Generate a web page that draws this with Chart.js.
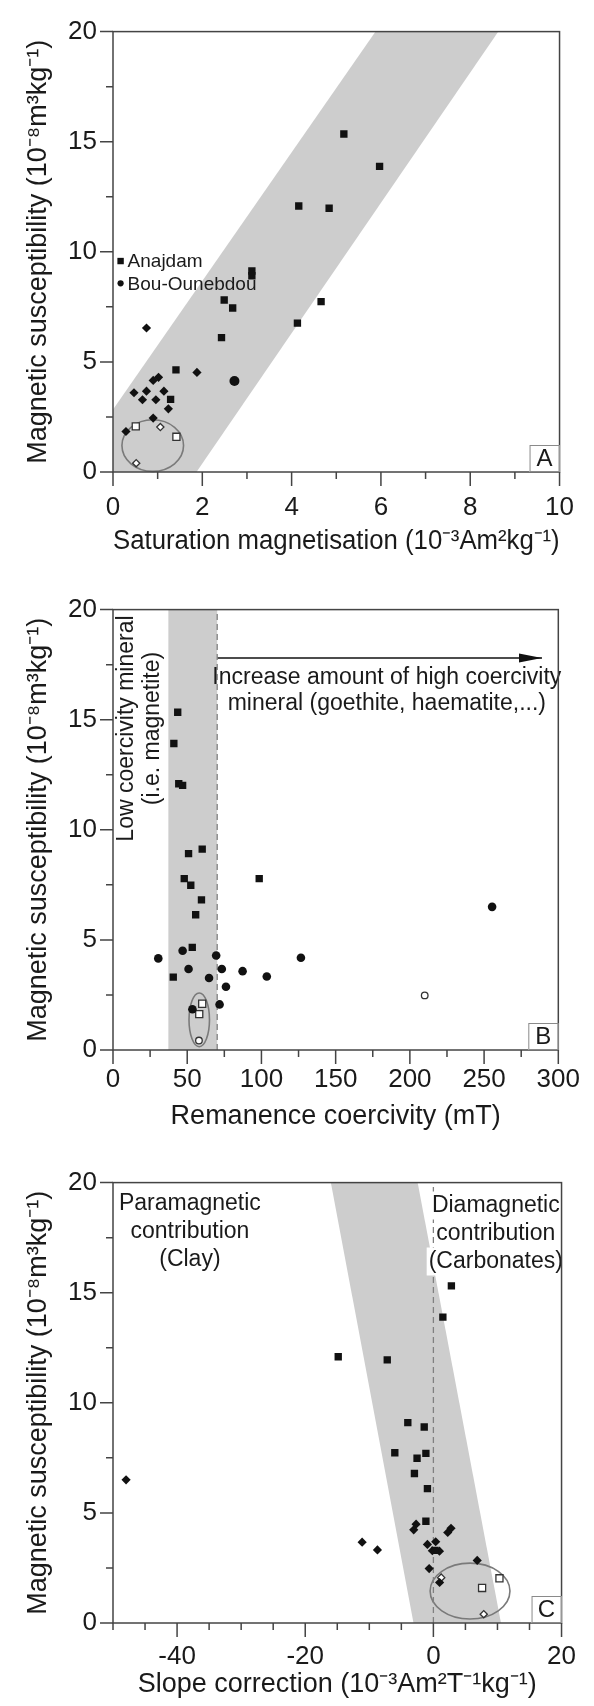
<!DOCTYPE html>
<html>
<head>
<meta charset="utf-8">
<script src="https://cdn.jsdelivr.net/npm/chart.js@4.4.1/dist/chart.umd.min.js"></script>
<style>
html, body { margin: 0; padding: 0; background: #fff; }
body { width: 594px; height: 1706px; position: relative; overflow: hidden; }
.panel { position: absolute; left: 0; width: 594px; }
</style>
</head>
<body>
<div class="panel" style="top:0px;height:578px"><canvas id="chartA"></canvas></div>
<div class="panel" style="top:578px;height:573px"><canvas id="chartB"></canvas></div>
<div class="panel" style="top:1151px;height:555px"><canvas id="chartC"></canvas></div>
<script>
// ================= DATA =================
// shared y axis (magnetic susceptibility)
const yLabels = [0, 5, 10, 15, 20];

// ---- Panel A : saturation magnetisation ----
const aXLabels = [0, 2, 4, 6, 8, 10];
const aAnajdamX = [5.17, 5.97, 4.16, 4.84, 3.11, 3.11, 2.49, 4.66, 2.68, 4.13, 2.43, 1.41, 1.29];
const aAnajdamY = [15.35, 13.88, 12.08, 11.98, 9.13, 8.91, 7.81, 7.74, 7.45, 6.76, 6.10, 4.64, 3.30];
const aBouX = [0.75, 1.88, 0.90, 1.02, 0.47, 0.75, 1.14, 0.66, 0.96, 1.24, 0.90, 0.29];
const aBouY = [6.54, 4.52, 4.16, 4.30, 3.60, 3.67, 3.67, 3.28, 3.28, 2.87, 2.45, 1.84];
const aBouBigX = [2.72];
const aBouBigY = [4.13];
const aOpenSqX = [0.51, 1.42];
const aOpenSqY = [2.07, 1.60];
const aOpenDiaX = [1.06, 0.52];
const aOpenDiaY = [2.04, 0.40];
const aBandX = [0, 1.87, 8.63, 5.88, 0];
const aBandY = [0, 0, 20, 20, 2.84];
const aEllipse = { cx: 0.89, cy: 1.20, rx: 0.69, ry: 1.17 };

// ---- Panel B : remanence coercivity ----
const bXLabels = [0, 50, 100, 150, 200, 250, 300];
const bAnajdamX = [43.6, 41.0, 44.3, 46.9, 60.1, 50.9, 98.5, 48.0, 52.4, 59.6, 55.7, 53.4, 40.6];
const bAnajdamY = [15.34, 13.92, 12.09, 12.02, 9.12, 8.92, 7.78, 7.78, 7.48, 6.82, 6.14, 4.66, 3.31];
const bBouX = [255.4, 126.6, 30.5, 46.9, 69.5, 50.9, 73.3, 87.3, 103.6, 64.7, 76.1, 71.8, 53.5];
const bBouY = [6.50, 4.19, 4.16, 4.51, 4.29, 3.68, 3.68, 3.58, 3.34, 3.27, 2.87, 2.07, 1.85];
const bOpenSqX = [60.1, 58.1];
const bOpenSqY = [2.10, 1.63];
const bOpenCircX = [210.0, 57.9];
const bOpenCircY = [2.48, 0.43];
const bBandX = [37.3, 70.2, 70.2, 37.3];
const bBandY = [0, 0, 20, 20];
const bDashX = [70.2, 70.2];
const bDashY = [0, 20];
const bArrowX = [70.2, 289];
const bArrowY = [17.8, 17.8];
const bEllipse = { cx: 58.1, cy: 1.37, rx: 6.9, ry: 1.22 };

// ---- Panel C : slope correction ----
const cXLabels = [-40, -20, 0, 20];
const cAnajdamX = [2.81, 1.48, -14.85, -7.20, -3.99, -1.43, -6.02, -1.17, -2.55, -2.96, -0.93, -1.17, 0.25];
const cAnajdamY = [15.31, 13.89, 12.09, 11.95, 9.10, 8.90, 7.73, 7.70, 7.48, 6.79, 6.10, 4.62, 3.30];
const cBouX = [-47.96, -2.70, -3.07, 2.75, 2.24, -11.12, -8.73, -0.93, 0.36, -0.16, 0.95, 6.84, -0.66, 0.97];
const cBouY = [6.50, 4.49, 4.23, 4.30, 4.11, 3.67, 3.32, 3.57, 3.69, 3.28, 3.26, 2.84, 2.47, 1.84];
const cOpenSqX = [10.31, 7.60];
const cOpenSqY = [2.03, 1.59];
const cOpenDiaX = [1.22, 7.86];
const cOpenDiaY = [2.06, 0.40];
const cBandX = [-16.0, -2.46, 10.55, -3.1];
const cBandY = [20, 20, 0, 0];
const cDashX = [0, 0];
const cDashY = [0, 20];
const cEllipse = { cx: 5.72, cy: 1.45, rx: 6.23, ry: 1.27 };

// ================= STYLE / HELPERS =================
const FONT = "'Liberation Sans', Arial, Helvetica, sans-serif";
const INK = '#1a1a1a';
const pts = (xs, ys) => xs.map((v, i) => ({ x: v, y: ys[i] }));
const isLabel = (arr, v) => arr.some(l => Math.abs(l - v) < 1e-6);

function markers(xs, ys, style, r, filled) {
  return {
    data: pts(xs, ys), showLine: false, order: 1,
    pointStyle: style, pointRadius: r, pointHoverRadius: r,
    pointBackgroundColor: filled ? '#111' : '#fff',
    pointBorderColor: filled ? '#111' : '#333',
    pointBorderWidth: filled ? 0 : 1.3
  };
}
function band(xs, ys) {
  return { data: pts(xs, ys), showLine: true, fill: 'shape', backgroundColor: '#cdcdcd',
    borderColor: 'rgba(0,0,0,0)', borderWidth: 0, pointRadius: 0, order: 10 };
}
function vline(xs, ys, color, width, dash) {
  return { data: pts(xs, ys), showLine: true, fill: false, borderColor: color, borderWidth: width,
    borderDash: dash || [], pointRadius: 0, order: 8 };
}

// annotation config per chart
const DECO = {
  chartA: {
    letter: 'A', ellipse: aEllipse, xLabels: aXLabels,
    legend: [
      { text: 'Anajdam', marker: 'rect', x: 0.17, y: 9.58 },
      { text: 'Bou-Ounebdou', marker: 'circle', x: 0.17, y: 8.57 }
    ],
    texts: []
  },
  chartB: {
    letter: 'B', ellipse: bEllipse, xLabels: bXLabels,
    arrow: { xs: bArrowX, ys: bArrowY },
    texts: [
      { lines: ['Increase amount of high coercivity', 'mineral (goethite, haematite,...)'], x: 184.5, y: 16.92, gap: 26, size: 23 },
      { lines: ['Low coercivity mineral', '(i.e. magnetite)'], x: 9.4, y: 14.6, gap: 26, size: 23, rotate: true }
    ]
  },
  chartC: {
    letter: 'C', ellipse: cEllipse, xLabels: cXLabels,
    texts: [
      { lines: ['Paramagnetic', 'contribution', '(Clay)'], x: -38.0, y: 19.05, gap: 28, size: 23 },
      { lines: ['Diamagnetic', 'contribution', '(Carbonates)'], x: 9.74, y: 18.96, gap: 28, size: 23, bg: true }
    ]
  }
};

const decoPlugin = {
  id: 'deco',
  afterDatasetDraw(chart, args) {
    if (args.index !== 0) return;
    const d = DECO[chart.canvas.id];
    if (!d || !d.ellipse) return;
    const { ctx, scales: { x, y } } = chart;
    const e = d.ellipse;
    const cx = x.getPixelForValue(e.cx), cy = y.getPixelForValue(e.cy);
    const rx = Math.abs(x.getPixelForValue(e.cx + e.rx) - cx);
    const ry = Math.abs(y.getPixelForValue(e.cy + e.ry) - cy);
    ctx.save();
    ctx.strokeStyle = '#7a7a7a'; ctx.lineWidth = 1.6;
    ctx.beginPath(); ctx.ellipse(cx, cy, rx, ry, 0, 0, Math.PI * 2); ctx.stroke();
    ctx.restore();
  },
  afterDatasetsDraw(chart) {
    const d = DECO[chart.canvas.id];
    if (!d) return;
    const { ctx, chartArea: ca, scales: { x, y } } = chart;
    ctx.save();
    // arrow head
    if (d.arrow) {
      const n = d.arrow.xs.length - 1;
      const tx = x.getPixelForValue(d.arrow.xs[n]), ty = y.getPixelForValue(d.arrow.ys[n]);
      ctx.fillStyle = '#111';
      ctx.beginPath(); ctx.moveTo(tx, ty); ctx.lineTo(tx - 23, ty - 4.5); ctx.lineTo(tx - 23, ty + 4.5); ctx.closePath(); ctx.fill();
    }
    // text blocks
    for (const t of d.texts || []) {
      ctx.font = t.size + 'px ' + FONT;
      ctx.textAlign = 'center'; ctx.textBaseline = 'middle';
      const px = x.getPixelForValue(t.x), py = y.getPixelForValue(t.y);
      ctx.save();
      ctx.translate(px, py);
      if (t.rotate) ctx.rotate(-Math.PI / 2);
      t.lines.forEach((ln, i) => {
        const off = t.rotate ? i * t.gap : i * t.gap;
        if (t.bg) {
          const w = ctx.measureText(ln).width;
          ctx.fillStyle = '#fff';
          ctx.fillRect(-w / 2 - 2, off - t.gap / 2, w + 4, t.gap);
        }
        ctx.fillStyle = INK;
        ctx.fillText(ln, 0, off);
      });
      ctx.restore();
    }
    // legend
    for (const L of d.legend || []) {
      const px = x.getPixelForValue(L.x), py = y.getPixelForValue(L.y);
      ctx.fillStyle = '#111';
      if (L.marker === 'rect') ctx.fillRect(px - 3.2, py - 3.2, 6.4, 6.4);
      else { ctx.beginPath(); ctx.arc(px, py, 3.1, 0, Math.PI * 2); ctx.fill(); }
      ctx.font = '19px ' + FONT; ctx.textAlign = 'left'; ctx.textBaseline = 'middle';
      ctx.fillStyle = INK;
      ctx.fillText(L.text, px + 7, py + 1);
    }
    // frame
    ctx.strokeStyle = '#444'; ctx.lineWidth = 1.5;
    ctx.strokeRect(ca.left, ca.top, ca.right - ca.left, ca.bottom - ca.top);
    // tick marks (major / minor)
    ctx.beginPath();
    for (const t of x.ticks) {
      const p = x.getPixelForValue(t.value);
      const L = isLabel(d.xLabels, t.value) ? 14 : 7;
      ctx.moveTo(p, ca.bottom); ctx.lineTo(p, ca.bottom + L);
    }
    for (const t of y.ticks) {
      const p = y.getPixelForValue(t.value);
      const L = isLabel(yLabels, t.value) ? 13 : 7;
      ctx.moveTo(ca.left - L, p); ctx.lineTo(ca.left, p);
    }
    ctx.stroke();
    // corner letter box
    const bw = 30, bh = 27;
    ctx.fillStyle = '#fff';
    ctx.fillRect(ca.right - bw, ca.bottom - bh, bw, bh);
    ctx.strokeStyle = '#8a8a8a'; ctx.lineWidth = 1;
    ctx.strokeRect(ca.right - bw + 0.5, ca.bottom - bh + 0.5, bw - 1, bh - 1);
    ctx.fillStyle = INK; ctx.font = '24px ' + FONT; ctx.textAlign = 'center'; ctx.textBaseline = 'middle';
    ctx.fillText(d.letter, ca.right - bw / 2, ca.bottom - bh / 2 + 1);
    ctx.restore();
  }
};

function makePanel(id, p) {
  return new Chart(document.getElementById(id), {
    type: 'scatter',
    data: { datasets: p.datasets },
    options: {
      responsive: true, maintainAspectRatio: false, animation: false,
      events: [],
      layout: { padding: { top: 17, right: 24, left: 0, bottom: 0 } },
      plugins: { legend: { display: false }, tooltip: { enabled: false } },
      scales: {
        x: {
          type: 'linear', min: p.xmin, max: p.xmax,
          afterFit: s => { s.height = p.xh; },
          grid: { display: false, drawTicks: false }, border: { display: false },
          ticks: {
            stepSize: p.xstep, autoSkip: false, maxRotation: 0, minRotation: 0, padding: p.xpad,
            color: INK, font: { family: FONT, size: 26 },
            callback: v => isLabel(p.xLabels, v) ? String(Math.round(v)) : ''
          },
          title: { display: true, text: p.xTitle, color: INK, font: { family: FONT, size: 27 },
                   padding: { top: 0, bottom: p.titlePad } }
        },
        y: {
          type: 'linear', min: 0, max: 20,
          afterFit: s => { s.width = 113; },
          grid: { display: false, drawTicks: false }, border: { display: false },
          ticks: {
            stepSize: 2.5, autoSkip: false, padding: 16,
            color: INK, font: { family: FONT, size: 26 },
            callback: v => isLabel(yLabels, v) ? String(Math.round(v)) : ''
          },
          title: { display: true, text: 'Magnetic susceptibility (10⁻⁸m³kg⁻¹)', color: INK,
                   font: { family: FONT, size: 27 }, padding: { top: 22, bottom: 0 } }
        }
      }
    },
    plugins: [decoPlugin]
  });
}

makePanel('chartA', {
  xmin: 0, xmax: 10, xstep: 1, xLabels: aXLabels, xh: 106, xpad: 20, titlePad: 20,
  xTitle: 'Saturation magnetisation (10⁻³Am²kg⁻¹)',
  datasets: [
    band(aBandX, aBandY),
    markers(aAnajdamX, aAnajdamY, 'rect', 5.2, true),
    markers(aBouX, aBouY, 'rectRot', 4.6, true),
    markers(aBouBigX, aBouBigY, 'circle', 5, true),
    markers(aOpenSqX, aOpenSqY, 'rect', 5, false),
    markers(aOpenDiaX, aOpenDiaY, 'rectRot', 3.6, false)
  ]
});

makePanel('chartB', {
  xmin: 0, xmax: 300, xstep: 25, xLabels: bXLabels, xh: 101, xpad: 14, titlePad: 18,
  xTitle: 'Remanence coercivity (mT)',
  datasets: [
    band(bBandX, bBandY),
    vline(bDashX, bDashY, '#808080', 1.3, [6, 4]),
    vline(bArrowX, bArrowY, '#111', 1.6),
    markers(bAnajdamX, bAnajdamY, 'rect', 5.2, true),
    markers(bBouX, bBouY, 'circle', 4.3, true),
    markers(bOpenSqX, bOpenSqY, 'rect', 5, false),
    markers(bOpenCircX, bOpenCircY, 'circle', 3.3, false)
  ]
});

makePanel('chartC', {
  xmin: -50, xmax: 20, xstep: 5, xLabels: cXLabels, xh: 83, xpad: 18, titlePad: 5,
  xTitle: 'Slope correction (10⁻³Am²T⁻¹kg⁻¹)',
  datasets: [
    band(cBandX, cBandY),
    vline(cDashX, cDashY, '#808080', 1.3, [6, 4]),
    markers(cAnajdamX, cAnajdamY, 'rect', 5.2, true),
    markers(cBouX, cBouY, 'rectRot', 4.6, true),
    markers(cOpenSqX, cOpenSqY, 'rect', 5, false),
    markers(cOpenDiaX, cOpenDiaY, 'rectRot', 3.6, false)
  ]
});
</script>
</body>
</html>
